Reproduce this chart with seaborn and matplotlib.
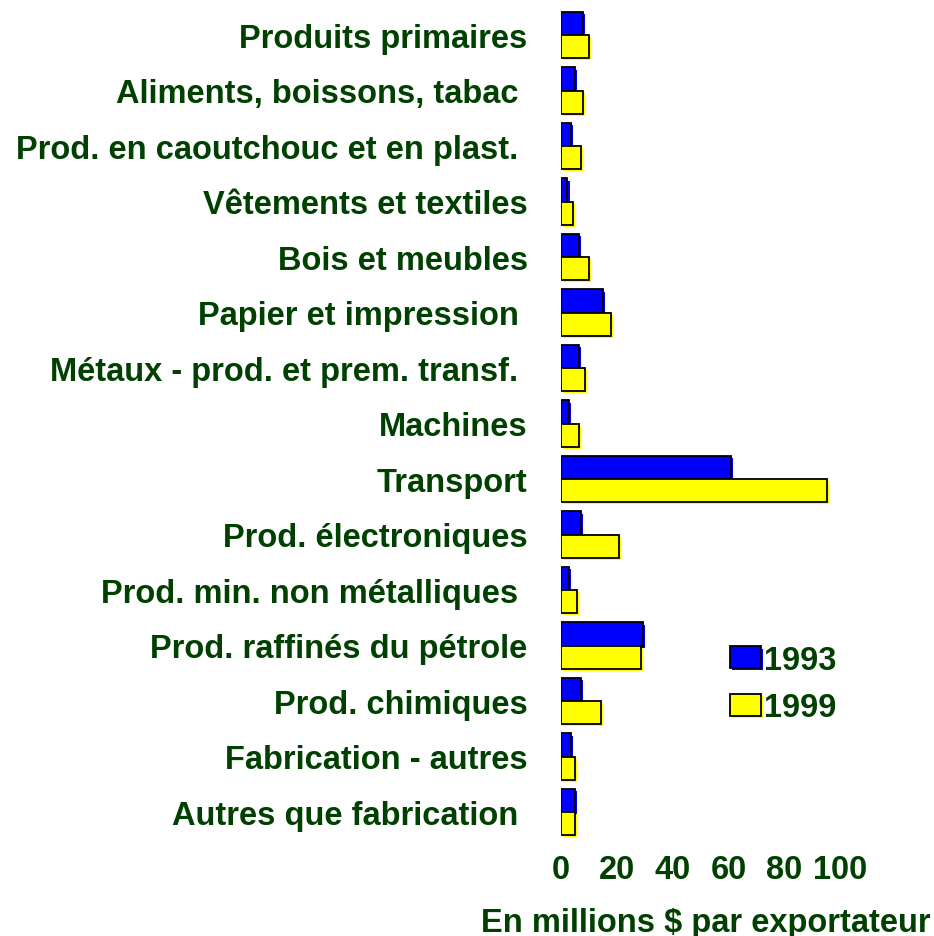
import matplotlib
matplotlib.use("Agg")
import matplotlib.pyplot as plt
import matplotlib.patheffects as pe
from matplotlib.patches import Patch
import seaborn as sns
import pandas as pd

categories = [
    "Produits primaires",
    "Aliments, boissons, tabac ",
    "Prod. en caoutchouc et en plast. ",
    "Vêtements et textiles",
    "Bois et meubles",
    "Papier et impression ",
    "Métaux - prod. et prem. transf. ",
    "Machines",
    "Transport",
    "Prod. électroniques",
    "Prod. min. non métalliques ",
    "Prod. raffinés du pétrole",
    "Prod. chimiques",
    "Fabrication - autres",
    "Autres que fabrication ",
]
v1993 = [8.0, 5.1, 3.7, 2.3, 6.6, 15.2, 6.6, 3.0, 61.0, 7.3, 3.0, 29.5, 7.3, 3.7, 5.1]
v1999 = [10.1, 8.0, 7.3, 4.4, 10.1, 18.0, 8.7, 6.6, 95.4, 20.9, 5.6, 28.8, 14.4, 5.1, 5.1]
years = ["1993", "1999"]
colors = {"1993": "#0000ff", "1999": "#ffff00"}
xticks = [0, 20, 40, 60, 80, 100]
xlabel = "En millions $ par exportateur"

df = pd.DataFrame({
    "cat": categories * 2,
    "val": v1993 + v1999,
    "year": [years[0]] * len(categories) + [years[1]] * len(categories),
})

sns.set_theme(style="white")
plt.rcParams["font.family"] = ["Liberation Sans", "DejaVu Sans"]
green = "#004000"
fs = 23.5

fig = plt.figure(figsize=(9.34, 9.37), dpi=100)
W, H = 934, 937
left, right = 561, 840
top, bottom = 8.25, 840.75
ax = fig.add_axes([left / W, 1 - bottom / H, (right - left) / W, (bottom - top) / H])

sns.barplot(data=df, y="cat", x="val", hue="year", palette=colors, orient="h",
            width=0.83, edgecolor="black", linewidth=1.3, legend=False, ax=ax,
            hue_order=years, order=categories, saturation=1)

for cont, y in zip(ax.containers, years):
    for p in cont.patches:
        p.set_path_effects([pe.SimplePatchShadow(offset=(1.5, -1.5), shadow_rgbFace=colors[y], alpha=1.0),
                            pe.Normal()])

ax.set_xlim(0, 100)
ax.set_ylim(len(categories) - 0.5, -0.5)
ax.set_xticks(xticks)
ax.set_xticklabels([str(t) for t in xticks])
ax.set_ylabel("")
ax.set_xlabel(xlabel, fontsize=fs, fontweight="bold", color=green)
ax.xaxis.set_label_coords(0.52, -0.0805)
ax.tick_params(axis="x", length=0, pad=10, labelsize=fs, labelcolor=green)
ax.tick_params(axis="y", length=0, pad=24, labelsize=fs, labelcolor=green)
for lab in ax.get_xticklabels() + ax.get_yticklabels():
    lab.set_fontweight("bold")
for s in ax.spines.values():
    s.set_visible(False)
ax.grid(False)

handles = []
for y in years:
    h = Patch(facecolor=colors[y], edgecolor="black", linewidth=1.3, label=y)
    h.set_path_effects([pe.SimplePatchShadow(offset=(1.5, -1.5), shadow_rgbFace=colors[y], alpha=1.0),
                        pe.Normal()])
    handles.append(h)
leg = ax.legend(handles=handles, loc="center left", bbox_to_anchor=(717 / W, 1 - 685 / H),
                bbox_transform=fig.transFigure, frameon=False,
                prop={"size": fs, "weight": "bold"}, handlelength=0.95, handleheight=0.65,
                handletextpad=0.1, labelspacing=0.5, borderaxespad=0)
for t in leg.get_texts():
    t.set_color(green)

fig.savefig("out.png", dpi=100)
